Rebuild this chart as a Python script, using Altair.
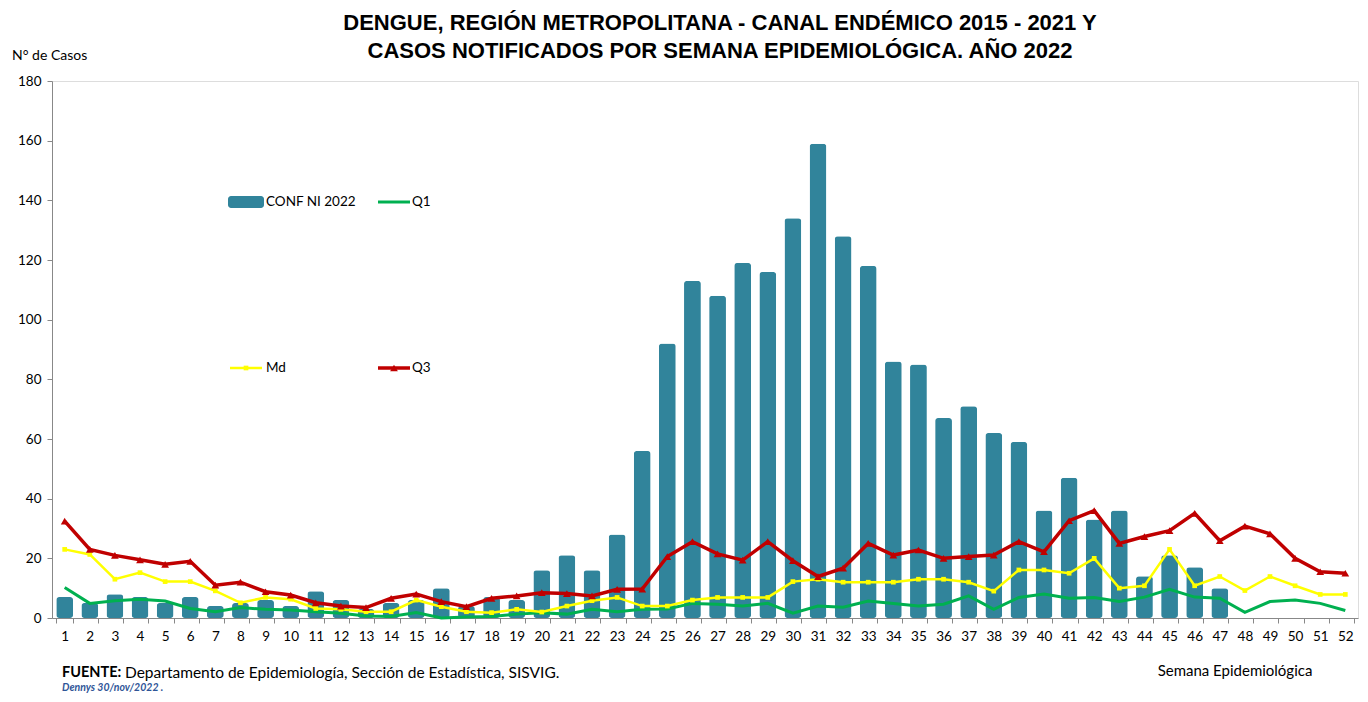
import altair as alt
import pandas as pd

weeks = list(range(1, 53))
conf_2022 = [7, 5, 8, 7, 5, 7, 4, 5, 6, 4, 9, 6, 3, 5, 6, 10, 4, 7, 6, 16,
             21, 16, 28, 56, 92, 113, 108, 119, 116, 134, 159, 128, 118, 86, 85, 67, 71, 62, 59, 36,
             47, 33, 36, 14, 21, 17, 10, None, None, None, None, None]
q1 = [10.2, 4.9, 5.8, 6.3, 5.7, 3.2, 2.1, 3.5, 2.9, 2.7, 2.1, 1.6, 0.7, 0.5, 1.8, 0, 0.3, 0.5, 1.3, 1.8,
      1.3, 2.9, 2.1, 2.9, 3, 4.9, 4.6, 4, 4.9, 1.6, 4, 3.6, 5.7, 4.9, 4, 4.6, 7.4, 2.9, 6.9, 8,
      6.6, 6.9, 5.5, 7, 9.6, 7, 6.6, 1.9, 5.5, 6, 4.9, 2.5]
md = [23, 21.3, 13, 15.2, 12.2, 12.2, 9.1, 5.1, 6.9, 6.3, 3.2, 2.9, 2.1, 2.1, 6, 3.8, 2.1, 1.8, 2.9, 2,
      4, 5.8, 6.9, 4, 4, 6, 6.9, 6.9, 6.9, 12.2, 13, 12, 12, 12, 13, 13, 12, 9, 16.1, 16.1,
      15, 20, 10, 10.8, 23, 10.8, 13.9, 9.2, 13.9, 10.8, 7.9, 7.9]
q3 = [32.5, 23, 21, 19.5, 18, 19, 11, 12, 8.8, 7.7, 5.1, 4, 3.5, 6.6, 8, 5.5, 3.8, 6.6, 7.4, 8.5,
      8.2, 7.4, 9.6, 9.7, 20.6, 25.6, 21.5, 19.4, 25.6, 19.2, 13.9, 16.7, 25, 21.1, 22.8, 20, 20.6, 21.1, 25.6, 22.2,
      32.6, 36, 25, 27.3, 29.3, 35.1, 25.9, 30.8, 28.2, 20, 15.5, 15]

title_lines = ["DENGUE, REGIÓN METROPOLITANA - CANAL ENDÉMICO 2015 - 2021 Y",
               "CASOS NOTIFICADOS POR SEMANA EPIDEMIOLÓGICA. AÑO 2022"]
y_title = "N° de Casos"
x_title = "Semana Epidemiológica"
legend_labels = ["CONF NI 2022", "Q1", "Md", "Q3"]
source_bold = "FUENTE:"
source_text = "Departamento de Epidemiología, Sección de Estadística, SISVIG."
author_text = "Dennys 30/nov/2022  ."

df = pd.DataFrame({"week": weeks, "conf": conf_2022, "q1": q1, "md": md, "q3": q3})

BAR = "#31849B"
GREEN = "#00B050"
YELLOW = "#FFFF00"
RED = "#C00000"
FONT = "Lato"
TFONT = "Liberation Sans Narrow, Liberation Sans"

W, H = 1306, 537

xenc = alt.X("week:O", title=None,
             scale=alt.Scale(paddingInner=0.33, paddingOuter=0.17),
             axis=alt.Axis(labelAngle=0, tickBand="extent", tickSize=5, labelPadding=6,
                           labelFontSize=13.5, labelFont=FONT, labelColor="black",
                           domainColor="#888888", tickColor="#888888"))
yscale = alt.Scale(domain=[0, 180], nice=False)
yaxis = alt.Axis(values=list(range(0, 181, 20)), grid=False, tickSize=5, labelPadding=6,
                 labelFontSize=13.5, labelFont=FONT, labelColor="black",
                 domainColor="#888888", tickColor="#888888")

base = alt.Chart(df)
bars = base.mark_bar(color=BAR, cornerRadius=3).encode(
    x=xenc, y=alt.Y("conf:Q", title=None, scale=yscale, axis=yaxis))
l_q1 = base.mark_line(color=GREEN, strokeWidth=3).encode(x=xenc, y=alt.Y("q1:Q", scale=yscale))
l_md = base.mark_line(color=YELLOW, strokeWidth=2.5,
                      point=alt.OverlayMarkDef(shape="square", size=22, color=YELLOW, filled=True)
                      ).encode(x=xenc, y=alt.Y("md:Q", scale=yscale))
l_q3 = base.mark_line(color=RED, strokeWidth=3.5,
                      point=alt.OverlayMarkDef(shape="triangle-up", size=60, color=RED, filled=True)
                      ).encode(x=xenc, y=alt.Y("q3:Q", scale=yscale))

one = alt.Data(values=[{"a": 1}])


def txt(text, x, y, size=13, weight="normal", style="normal", color="black", align="left", font=FONT):
    return alt.Chart(one).mark_text(text=text, align=align, baseline="middle", fontSize=size,
                                    fontWeight=weight, fontStyle=style, color=color, font=font
                                    ).encode(x=alt.value(x), y=alt.value(y))


# manual legend
leg_rect = alt.Chart(one).mark_rect(color=BAR, cornerRadius=3).encode(
    x=alt.value(176), x2=alt.value(212), y=alt.value(115), y2=alt.value(127))
leg_q1 = alt.Chart(one).mark_rule(color=GREEN, strokeWidth=3).encode(
    x=alt.value(326), x2=alt.value(358), y=alt.value(121))
leg_md = alt.Chart(one).mark_rule(color=YELLOW, strokeWidth=2.5).encode(
    x=alt.value(178), x2=alt.value(210), y=alt.value(287))
leg_md_pt = alt.Chart(one).mark_point(shape="square", size=22, color=YELLOW, filled=True, opacity=1).encode(
    x=alt.value(194), y=alt.value(287))
leg_q3 = alt.Chart(one).mark_rule(color=RED, strokeWidth=3.5).encode(
    x=alt.value(326), x2=alt.value(358), y=alt.value(287))
leg_q3_pt = alt.Chart(one).mark_point(shape="triangle-up", size=60, color=RED, filled=True, opacity=1).encode(
    x=alt.value(342), y=alt.value(287))

texts = [
    txt(title_lines[0], 668, -58, size=22, weight="bold", align="center", font=TFONT),
    txt(title_lines[1], 668, -30, size=22, weight="bold", align="center", font=TFONT),
    txt(y_title, -40, -25, size=14),
    txt(x_title, 1183, 590, size=15, align="center"),
    txt(legend_labels[0], 214, 121, size=13.5),
    txt(legend_labels[1], 360, 121, size=13.5),
    txt(legend_labels[2], 214, 287, size=13.5),
    txt(legend_labels[3], 360, 287, size=13.5),
    txt(source_bold, 10, 592, size=14.5, weight="bold"),
    txt(source_text, 73, 592, size=15.5),
    txt(author_text, 10, 607, size=10.5, weight="bold", style="italic", color="#2F5597"),
]

chart = alt.layer(bars, l_q1, l_md, l_q3, leg_rect, leg_q1, leg_md, leg_md_pt, leg_q3, leg_q3_pt, *texts
                  ).properties(
    width=W, height=H,
    autosize=alt.AutoSizeParams(type="none"),
    padding={"left": 44, "top": 73, "right": 2, "bottom": 76},
).configure_view(stroke=None).configure(background="white")

chart.save("out.html", embed_options={"renderer": "svg", "actions": False})
